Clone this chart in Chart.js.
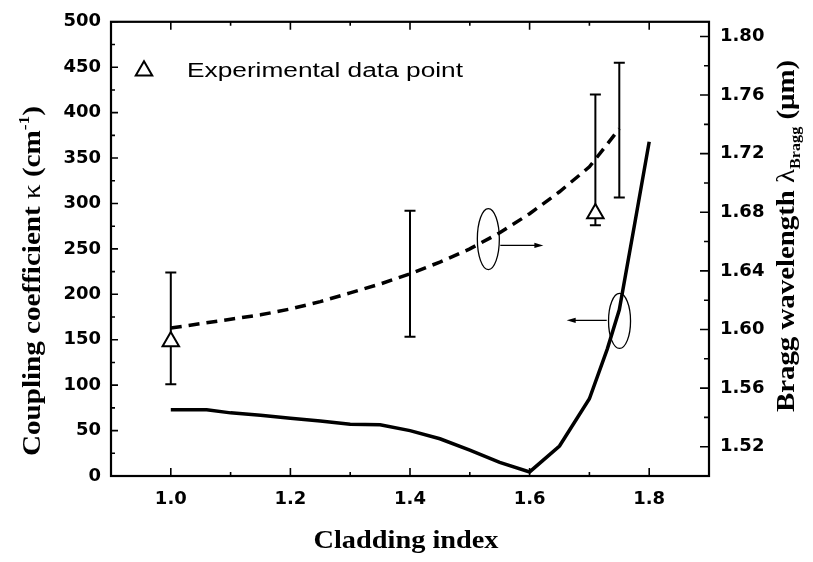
<!DOCTYPE html>
<html><head><meta charset="utf-8">
<script src="https://cdn.jsdelivr.net/npm/chart.js@4.4.1/dist/chart.umd.min.js"></script>
<style>html,body{margin:0;padding:0;background:#fff;overflow:hidden}#wrap{width:813px;height:562px}</style>
</head><body><div id="wrap"><canvas id="c" width="813" height="562"></canvas></div>
<script>
// ---- data ----
const kappaIndex  = [1.0, 1.06, 1.1, 1.15, 1.2, 1.25, 1.3, 1.35, 1.4, 1.45, 1.5, 1.55, 1.6, 1.65, 1.7, 1.73, 1.75, 1.775, 1.8];
const kappaValues = [73, 73, 69.5, 67, 63.5, 60.5, 57, 56.5, 50, 41, 28.5, 15, 4.5, 33, 85, 140, 183, 275, 368];
const braggIndex  = [1.0, 1.05, 1.1, 1.15, 1.2, 1.25, 1.3, 1.35, 1.4, 1.45, 1.5, 1.55, 1.6, 1.65, 1.7, 1.75];
const braggValues = [1.601, 1.604, 1.607, 1.610, 1.614, 1.619, 1.625, 1.631, 1.638, 1.646, 1.655, 1.666, 1.679, 1.694, 1.711, 1.737];
const expIndex      = [1.0, 1.71];
const expKappa      = [148, 289];
const expKappaLow   = [101, 276];
const expKappaHigh  = [224, 420];
const braggErrIndex = [1.4, 1.75];
const braggErrLow   = [1.595, 1.690];
const braggErrHigh  = [1.681, 1.782];
const xTicks       = [1.0, 1.2, 1.4, 1.6, 1.8];
const xTickLabels  = ['1.0', '1.2', '1.4', '1.6', '1.8'];
const xMinor       = [1.1, 1.3, 1.5, 1.7];
const yTicks       = [0, 50, 100, 150, 200, 250, 300, 350, 400, 450, 500];
const yTickLabels  = ['0', '50', '100', '150', '200', '250', '300', '350', '400', '450', '500'];
const yMinor       = [25, 75, 125, 175, 225, 275, 325, 375, 425, 475];
const y2Ticks      = [1.52, 1.56, 1.60, 1.64, 1.68, 1.72, 1.76, 1.80];
const y2TickLabels = ['1.52', '1.56', '1.60', '1.64', '1.68', '1.72', '1.76', '1.80'];
const y2Minor      = [1.54, 1.58, 1.62, 1.66, 1.70, 1.74, 1.78];
const legendLabel  = 'Experimental data point';
const xTitle = 'Cladding index';

// annotation ellipses / arrows (data coordinates)
const noteEllipses = [
  {x: 1.531, y: 1.6617, axis: 'y2', rx: 11, ry: 30.5},
  {x: 1.7504, y: 170.7, axis: 'y', rx: 11, ry: 27.5}
];
const noteArrows = [
  {x1: 1.551, x2: 1.623, y: 1.6574, axis: 'y2'},
  {x1: 1.729, x2: 1.662, y: 171.4, axis: 'y'}
];

const tickFont = {family: 'DejaVu Sans', weight: 'bold', size: 18};

function drawRich(ctx, parts, cx, cy, angle, targetW, align) {
  let w = 0;
  parts.forEach(p => { ctx.font = p.font; p.w = ctx.measureText(p.t).width; w += p.w; });
  const sx = targetW / w;
  ctx.save();
  ctx.translate(cx, cy);
  ctx.rotate(angle);
  ctx.scale(sx, 1);
  ctx.fillStyle = '#000';
  ctx.textBaseline = 'alphabetic';
  ctx.textAlign = 'left';
  let x = align === 'left' ? 0 : -w / 2;
  parts.forEach(p => { ctx.font = p.font; ctx.fillText(p.t, x, p.dy || 0); x += p.w; });
  ctx.restore();
}

function triangle(ctx, x, y, r) {
  ctx.beginPath();
  for (let k = 0; k < 3; k++) {
    const a = -Math.PI / 2 + k * 2 * Math.PI / 3;
    const px = x + Math.cos(a) * r, py = y + Math.sin(a) * r;
    if (k === 0) ctx.moveTo(px, py); else ctx.lineTo(px, py);
  }
  ctx.closePath();
  ctx.fillStyle = '#fff'; ctx.fill();
  ctx.lineWidth = 2; ctx.strokeStyle = '#000'; ctx.stroke();
}

const decor = {
  id: 'decor',
  beforeDatasetsDraw(chart) {
    const ctx = chart.ctx, xs = chart.scales.x, ys = chart.scales.y, y2 = chart.scales.y2;
    ctx.save();
    ctx.strokeStyle = '#000'; ctx.lineWidth = 2;
    const bar = (px, pLo, pHi) => {
      ctx.beginPath();
      ctx.moveTo(px, pLo); ctx.lineTo(px, pHi);
      ctx.moveTo(px - 5.5, pLo); ctx.lineTo(px + 5.5, pLo);
      ctx.moveTo(px - 5.5, pHi); ctx.lineTo(px + 5.5, pHi);
      ctx.stroke();
    };
    expIndex.forEach((v, i) => bar(xs.getPixelForValue(v), ys.getPixelForValue(expKappaLow[i]), ys.getPixelForValue(expKappaHigh[i])));
    braggErrIndex.forEach((v, i) => bar(xs.getPixelForValue(v), y2.getPixelForValue(braggErrLow[i]), y2.getPixelForValue(braggErrHigh[i])));
    ctx.restore();
  },
  afterDraw(chart) {
    const ctx = chart.ctx, ca = chart.chartArea, xs = chart.scales.x, ys = chart.scales.y, y2 = chart.scales.y2;
    ctx.save();
    ctx.strokeStyle = '#000'; ctx.fillStyle = '#000';
    // frame
    ctx.lineWidth = 2.2;
    ctx.strokeRect(ca.left, ca.top, ca.right - ca.left, ca.bottom - ca.top);
    // ticks
    ctx.lineWidth = 1.6;
    ctx.beginPath();
    const xt = (v, len) => { const p = xs.getPixelForValue(v); ctx.moveTo(p, ca.bottom); ctx.lineTo(p, ca.bottom - len); ctx.moveTo(p, ca.top); ctx.lineTo(p, ca.top + len); };
    xTicks.forEach(v => xt(v, 8)); xMinor.forEach(v => xt(v, 4));
    const yt = (v, len) => { const p = ys.getPixelForValue(v); ctx.moveTo(ca.left, p); ctx.lineTo(ca.left + len, p); };
    yTicks.forEach(v => yt(v, 7)); yMinor.forEach(v => yt(v, 4));
    const y2t = (v, len) => { const p = y2.getPixelForValue(v); ctx.moveTo(ca.right, p); ctx.lineTo(ca.right - len, p); };
    y2Ticks.forEach(v => y2t(v, 9)); y2Minor.forEach(v => y2t(v, 5));
    ctx.stroke();
    // annotations
    ctx.lineWidth = 1.3;
    noteEllipses.forEach(e => {
      const s = chart.scales[e.axis];
      ctx.beginPath();
      ctx.ellipse(xs.getPixelForValue(e.x), s.getPixelForValue(e.y), e.rx, e.ry, 0, 0, Math.PI * 2);
      ctx.stroke();
    });
    noteArrows.forEach(a => {
      const s = chart.scales[a.axis];
      const p1 = xs.getPixelForValue(a.x1), p2 = xs.getPixelForValue(a.x2), py = s.getPixelForValue(a.y);
      const d = Math.sign(p2 - p1);
      ctx.beginPath(); ctx.moveTo(p1, py); ctx.lineTo(p2 - d * 6, py); ctx.stroke();
      ctx.beginPath(); ctx.moveTo(p2, py); ctx.lineTo(p2 - d * 9, py - 2.6); ctx.lineTo(p2 - d * 9, py + 2.6); ctx.closePath(); ctx.fill();
    });
    // legend
    triangle(ctx, ca.left + 33, ca.top + 49, 9.5);
    drawRich(ctx, [{t: legendLabel, font: '19.5px "Liberation Sans"'}], ca.left + 76, ca.top + 55.5, 0, 276, 'left');
    // axis titles
    const serifB = (sz) => 'bold ' + sz + 'px "Liberation Serif"';
    drawRich(ctx, [
      {t: 'Coupling coefficient ', font: serifB(25)},
      {t: 'κ', font: '25px "Liberation Serif"'},
      {t: ' (cm', font: serifB(25)},
      {t: '-1', font: serifB(15), dy: -11},
      {t: ')', font: serifB(25)}
    ], 40, 281, -Math.PI / 2, 350);
    drawRich(ctx, [
      {t: 'Bragg wavelength ', font: serifB(25)},
      {t: 'λ', font: '25px "Liberation Serif"'},
      {t: 'Bragg', font: serifB(14), dy: 6},
      {t: ' (μm)', font: serifB(25)}
    ], 794, 236, -Math.PI / 2, 352);
    drawRich(ctx, [{t: xTitle, font: serifB(26)}], 406, 548, 0, 185);
    ctx.restore();
  }
};

const tickCommon = {font: tickFont, color: '#000', autoSkip: false, maxRotation: 0, minRotation: 0};

new Chart(document.getElementById('c').getContext('2d'), {
  type: 'scatter',
  data: {
    datasets: [
      {label: 'Coupling coefficient', data: kappaIndex.map((x, i) => ({x, y: kappaValues[i]})), showLine: true,
       borderColor: '#000', borderWidth: 3.5, pointRadius: 0, tension: 0, yAxisID: 'y', fill: false},
      {label: 'Bragg wavelength', data: braggIndex.map((x, i) => ({x, y: braggValues[i]})), showLine: true,
       borderColor: '#000', borderWidth: 3.5, borderDash: [11, 7], pointRadius: 0, tension: 0, yAxisID: 'y2', fill: false},
      {label: legendLabel, data: expIndex.map((x, i) => ({x, y: expKappa[i]})), showLine: false,
       pointStyle: 'triangle', pointRadius: 9.5, pointBorderWidth: 2, pointBackgroundColor: '#fff', pointBorderColor: '#000', yAxisID: 'y'}
    ]
  },
  options: {
    responsive: false, animation: false, devicePixelRatio: 1,
    layout: {padding: {top: 19, left: 0, right: 0, bottom: 0}},
    plugins: {legend: {display: false}, tooltip: {enabled: false}},
    scales: {
      x: {type: 'linear', position: 'bottom', min: 0.9, max: 1.9,
          afterBuildTicks: s => { s.ticks = xTicks.map(v => ({value: v})); },
          afterFit: s => { s.height = 86; },
          grid: {display: false, drawTicks: false}, border: {display: false},
          ticks: Object.assign({padding: 13, callback: (v, i) => xTickLabels[i]}, tickCommon)},
      y: {type: 'linear', position: 'left', min: 0, max: 500,
          afterBuildTicks: s => { s.ticks = yTicks.map(v => ({value: v})); },
          afterFit: s => { s.width = 111; },
          grid: {display: false, drawTicks: false}, border: {display: false},
          ticks: Object.assign({padding: 10, callback: (v, i) => yTickLabels[i]}, tickCommon)},
      y2: {type: 'linear', position: 'right', min: 1.50, max: 1.81,
          afterBuildTicks: s => { s.ticks = y2Ticks.map(v => ({value: v})); },
          afterFit: s => { s.width = 104; },
          grid: {display: false, drawTicks: false}, border: {display: false},
          ticks: Object.assign({padding: 11, callback: (v, i) => y2TickLabels[i]}, tickCommon)}
    }
  },
  plugins: [decor]
});
</script></body></html>
